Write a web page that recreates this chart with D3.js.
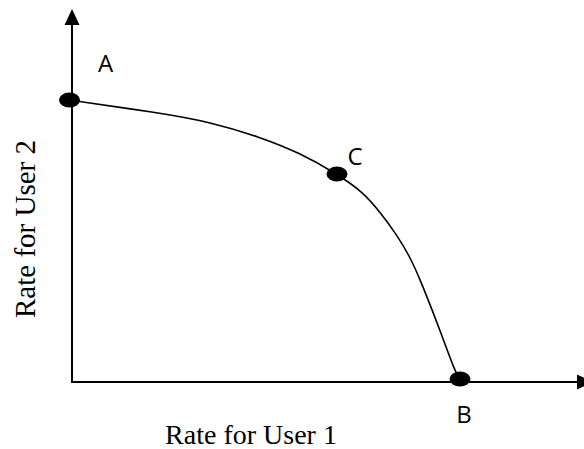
<!DOCTYPE html>
<html>
<head>
<meta charset="utf-8">
<script src="https://cdn.jsdelivr.net/npm/d3@7/dist/d3.min.js"></script>
<style>
  html, body { margin: 0; padding: 0; background: #fff; }
  svg { display: block; }
</style>
</head>
<body>
<div id="chart"></div>
<script>
(function () {
    'use strict';

    // rate region boundary (user 1 rate, user 2 rate)
    const boundaryX = [-0.05, 1.76, 2.76, 3.76, 4.56, 5.3, 5.82, 6.16, 6.5, 6.76, 6.96, 7.36, 7.66, 7.76];
    const boundaryY = [5.64, 5.38, 5.2, 4.9, 4.58, 4.16, 3.8, 3.4, 2.94, 2.5, 2.06, 1.04, 0.2, 0.06];

    // operating points
    const pointNames = ["A", "C", "B"];
    const pointX = [-0.05, 5.3, 7.76];
    const pointY = [5.64, 4.16, 0.06];

    const xLabel = "Rate for User 1";
    const yLabel = "Rate for User 2";
    const xMax = 10.42;
    const yMax = 7.46;

    const width = 584;
    const height = 449;

    const svg = d3.select("#chart").append("svg")
        .attr("width", width)
        .attr("height", height);

    const x = d3.scaleLinear().domain([0, 10]).range([72, 572]);
    const y = d3.scaleLinear().domain([0, 7]).range([382, 32]);

    // axes with arrow heads
    svg.append("line")
        .attr("x1", x(0)).attr("y1", y(0))
        .attr("x2", x(0)).attr("y2", y(yMax) + 14)
        .attr("stroke", "#000").attr("stroke-width", 2);

    svg.append("path")
        .attr("d", `M${x(0)},${y(yMax)} L${x(0) - 7.5},${y(yMax) + 16} L${x(0) + 7.5},${y(yMax) + 16} Z`)
        .attr("fill", "#000");

    svg.append("line")
        .attr("x1", x(0) - 1).attr("y1", y(0))
        .attr("x2", x(xMax) - 14).attr("y2", y(0))
        .attr("stroke", "#000").attr("stroke-width", 2);

    svg.append("path")
        .attr("d", `M${x(xMax)},${y(0)} L${x(xMax) - 16},${y(0) - 7.5} L${x(xMax) - 16},${y(0) + 7.5} Z`)
        .attr("fill", "#000");

    // boundary curve
    const curveData = boundaryX.map((v, i) => [v, boundaryY[i]]);
    const line = d3.line()
        .x(d => x(d[0]))
        .y(d => y(d[1]))
        .curve(d3.curveBasis);

    svg.append("path")
        .datum(curveData)
        .attr("d", line)
        .attr("fill", "none")
        .attr("stroke", "#000")
        .attr("stroke-width", 1.6);

    // points
    const pts = pointNames.map((n, i) => ({ name: n, x: pointX[i], y: pointY[i] }));
    const labelOffset = { A: [36, -28], C: [18, -9], B: [4, 44] };

    svg.selectAll("ellipse.pt")
        .data(pts)
        .enter()
        .append("ellipse")
        .attr("class", "pt")
        .attr("cx", d => x(d.x))
        .attr("cy", d => y(d.y))
        .attr("rx", 10.5)
        .attr("ry", 7.5)
        .attr("fill", "#000");

    svg.selectAll("text.pt-label")
        .data(pts)
        .enter()
        .append("text")
        .attr("class", "pt-label")
        .attr("x", d => x(d.x) + labelOffset[d.name][0])
        .attr("y", d => y(d.y) + labelOffset[d.name][1])
        .attr("text-anchor", "middle")
        .style("font-family", "'Open Sans', sans-serif")
        .style("font-size", "24px")
        .attr("fill", "#000")
        .text(d => d.name);

    // axis titles
    svg.append("text")
        .attr("x", 251)
        .attr("y", 444)
        .attr("text-anchor", "middle")
        .style("font-family", "'Liberation Serif', 'Times New Roman', serif")
        .style("font-size", "28px")
        .text(xLabel);

    svg.append("text")
        .attr("transform", "translate(35,229) rotate(-90)")
        .attr("text-anchor", "middle")
        .style("font-family", "'Liberation Serif', 'Times New Roman', serif")
        .style("font-size", "29px")
        .text(yLabel);
})();
</script>
</body>
</html>
